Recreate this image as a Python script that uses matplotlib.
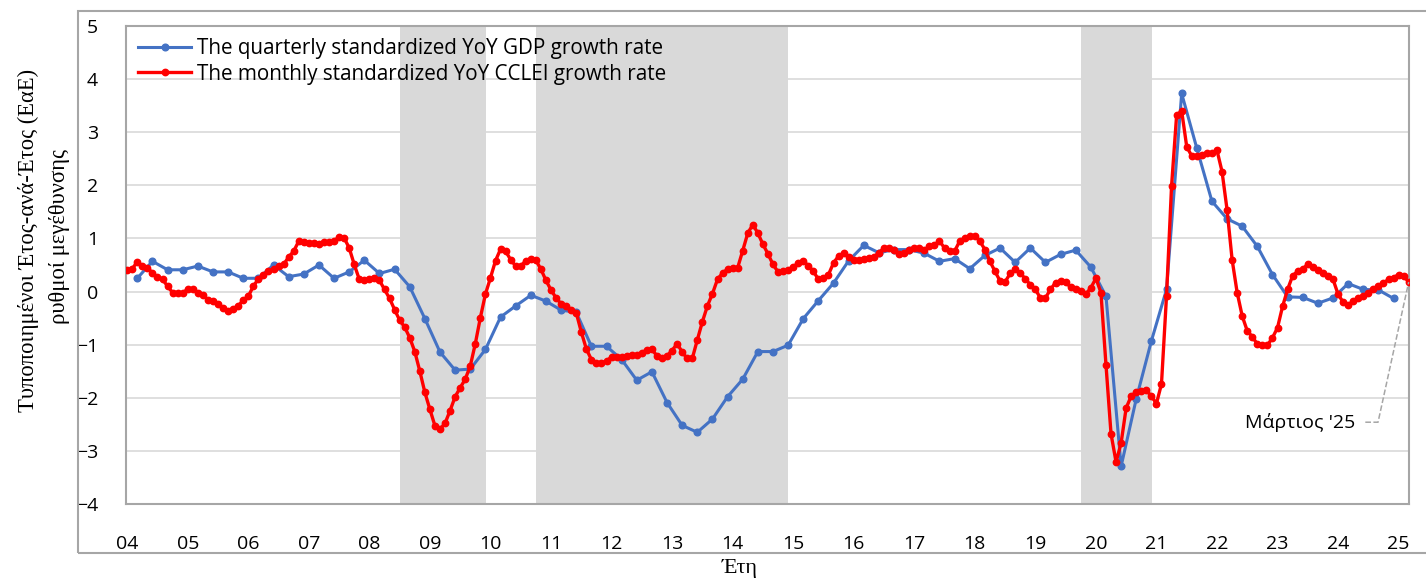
import numpy as np
import matplotlib.pyplot as plt
from matplotlib.patches import Rectangle

# monthly standardized YoY CCLEI growth rate, Jan 2004 - Mar 2025
cclei = [
    0.40, 0.43, 0.56, 0.48, 0.45, 0.35, 0.27, 0.23, 0.10, -0.02, -0.02, -0.02,
    0.04, 0.05, -0.02, -0.07, -0.15, -0.18, -0.24, -0.31, -0.37, -0.32, -0.27, -0.16,
    -0.09, 0.10, 0.24, 0.32, 0.38, 0.43, 0.48, 0.51, 0.65, 0.76, 0.95, 0.93,
    0.92, 0.91, 0.90, 0.93, 0.93, 0.95, 1.03, 1.01, 0.82, 0.51, 0.23, 0.21,
    0.23, 0.26, 0.21, 0.04, -0.13, -0.34, -0.54, -0.67, -0.87, -1.13, -1.50, -1.90,
    -2.22, -2.53, -2.59, -2.48, -2.24, -1.98, -1.81, -1.65, -1.40, -0.98, -0.49, -0.05,
    0.26, 0.58, 0.80, 0.76, 0.60, 0.48, 0.48, 0.58, 0.61, 0.59, 0.42, 0.21,
    0.03, -0.12, -0.23, -0.27, -0.34, -0.40, -0.76, -1.08, -1.28, -1.35, -1.34, -1.31,
    -1.23, -1.23, -1.23, -1.21, -1.19, -1.20, -1.15, -1.10, -1.09, -1.21, -1.25, -1.21,
    -1.11, -0.98, -1.14, -1.26, -1.26, -0.91, -0.57, -0.27, -0.04, 0.23, 0.35, 0.42,
    0.45, 0.45, 0.77, 1.10, 1.26, 1.10, 0.89, 0.71, 0.51, 0.37, 0.38, 0.41,
    0.47, 0.53, 0.57, 0.49, 0.38, 0.23, 0.26, 0.32, 0.54, 0.67, 0.72, 0.65,
    0.59, 0.60, 0.61, 0.63, 0.65, 0.73, 0.82, 0.82, 0.79, 0.70, 0.73, 0.79,
    0.82, 0.82, 0.79, 0.85, 0.88, 0.95, 0.82, 0.76, 0.76, 0.95, 1.01, 1.04,
    1.05, 0.95, 0.79, 0.57, 0.38, 0.20, 0.18, 0.34, 0.42, 0.35, 0.24, 0.13,
    0.04, -0.12, -0.12, 0.04, 0.17, 0.20, 0.18, 0.08, 0.04, 0.01, -0.05, 0.07,
    0.25, -0.02, -1.38, -2.68, -3.21, -2.85, -2.19, -1.97, -1.89, -1.87, -1.86, -1.97,
    -2.11, -1.74, -0.08, 1.99, 3.32, 3.40, 2.73, 2.55, 2.55, 2.57, 2.60, 2.61,
    2.66, 2.26, 1.54, 0.60, -0.02, -0.46, -0.74, -0.85, -0.99, -1.01, -1.01, -0.87,
    -0.68, -0.28, 0.04, 0.30, 0.38, 0.42, 0.52, 0.46, 0.41, 0.35, 0.30, 0.23,
    -0.05, -0.20, -0.25, -0.18, -0.12, -0.08, -0.02, 0.04, 0.10, 0.16, 0.23, 0.26,
    0.32, 0.29, 0.18,
]

# quarterly standardized YoY GDP growth rate, Q1 2004 - Q4 2024
gdp = [
    0.25, 0.57, 0.41, 0.41, 0.48, 0.37, 0.37, 0.25, 0.25, 0.50, 0.28, 0.33,
    0.50, 0.25, 0.37, 0.59, 0.34, 0.42, 0.09, -0.51, -1.14, -1.48, -1.46, -1.09,
    -0.48, -0.27, -0.07, -0.18, -0.35, -0.39, -1.03, -1.03, -1.28, -1.67, -1.51, -2.09,
    -2.52, -2.65, -2.40, -1.98, -1.65, -1.13, -1.13, -1.01, -0.51, -0.17, 0.16, 0.58,
    0.87, 0.73, 0.79, 0.79, 0.72, 0.57, 0.62, 0.43, 0.68, 0.82, 0.55, 0.82,
    0.55, 0.70, 0.78, 0.46, -0.09, -3.29, -2.02, -0.93, 0.04, 3.73, 2.70, 1.70,
    1.37, 1.23, 0.85, 0.32, -0.10, -0.11, -0.22, -0.12, 0.15, 0.04, 0.03, -0.13,
]

# shaded periods (decimal years)
shade_start = [2008.5, 2010.75, 2019.75]
shade_end = [2009.92, 2014.92, 2020.92]

years = list(range(2004, 2026))
year_labels = [f"{y % 100:02d}" for y in years]

x_month = 2004 + np.arange(len(cclei)) / 12
x_quarter = 2004 + (3 * np.arange(len(gdp)) + 2) / 12

plt.rcParams['font.family'] = ['Open Sans', 'DejaVu Sans']

W, H = 1426, 579
fig = plt.figure(figsize=(W / 100, H / 100), dpi=100)
ax = fig.add_axes([126 / W, (H - 504) / H, (1409 - 126) / W, (504 - 26) / H])

# outer chart frame
fig.add_artist(Rectangle((78 / W, (H - 553) / H), (W + 10 - 78) / W, (553 - 11) / H,
                         transform=fig.transFigure, fill=False,
                         edgecolor='#a6a6a6', linewidth=1.5))

for s, e in zip(shade_start, shade_end):
    ax.axvspan(s, e, color='#d9d9d9', lw=0, zorder=0)

ax.plot(x_quarter, gdp, color='#4472c4', lw=2.2, marker='o', ms=4.8,
        label='The quarterly standardized YoY GDP growth rate', zorder=3)
ax.plot(x_month, cclei, color='#ff0000', lw=2.4, marker='o', ms=4.6,
        label='The monthly standardized YoY CCLEI growth rate', zorder=4)

ax.set_xlim(x_month[0] - 0.02, x_month[-1] + 0.005)
ax.set_ylim(-4, 5)
ax.set_yticks(range(-4, 6))
ax.set_xticks(years)
ax.set_xticklabels(year_labels)
ax.tick_params(axis='both', length=0, labelsize=14)
ax.tick_params(axis='x', pad=22)
ax.tick_params(axis='y', pad=20)
ax.grid(axis='y', color='#d9d9d9', lw=1.2, zorder=1)
ax.set_axisbelow(True)
for sp in ax.spines.values():
    sp.set_color('#a6a6a6')
    sp.set_linewidth(1.5)

ax.legend(loc='upper left', frameon=False, fontsize=14.9, handlelength=2.55,
          handletextpad=0.3, labelspacing=0.2, borderaxespad=0.2,
          bbox_to_anchor=(0.0, 1.0))

# annotation for last observation
xl, yl = x_month[-1], cclei[-1]
ax.plot([2024.45, 2024.66, xl], [-2.46, -2.46, yl], color='#a6a6a6', lw=1.1,
        ls='--', zorder=5, clip_on=False)
ax.text(2024.28, -2.46, "Μάρτιος '25", ha='right', va='center', fontsize=14)

serif = ['Liberation Serif', 'DejaVu Serif']
fig.text(28 / W, 1 - 240 / H, 'Τυποποιημένοι Έτος-ανά-Έτος (ΕαΕ)', rotation=90,
         ha='center', va='center', fontsize=16.3, family=serif)
fig.text(60 / W, 1 - 236 / H, 'ρυθμοί μεγέθυνσης', rotation=90,
         ha='center', va='center', fontsize=16.3, family=serif)
fig.text(740 / W, 1 - 568 / H, 'Έτη', ha='center', va='center', fontsize=16,
         family=serif)

fig.savefig('out.png', dpi=100)
